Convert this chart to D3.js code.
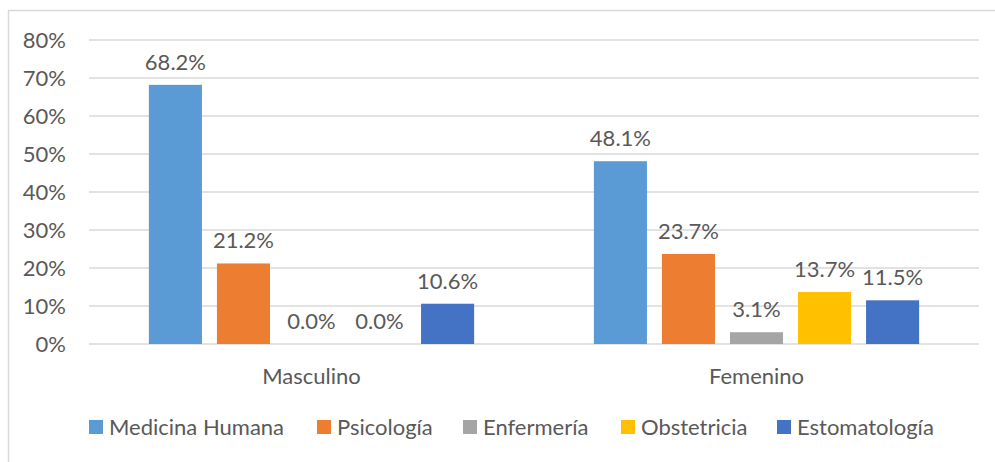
<!DOCTYPE html>
<html>
<head>
<meta charset="utf-8">
<script src="https://cdn.jsdelivr.net/npm/d3@7"></script>
<style>
  body { margin: 0; background: #fff; }
  text { font-family: Lato, "Open Sans", sans-serif; fill: #595959; }
</style>
</head>
<body>
<div id="chart"></div>
<script>
var groups = ["Masculino", "Femenino"];
var carreras = ["Medicina Humana", "Psicología", "Enfermería", "Obstetricia", "Estomatología"];
var masculino = [68.2, 21.2, 0.0, 0.0, 10.6];
var femenino = [48.1, 23.7, 3.1, 13.7, 11.5];
var yTicks = [0, 10, 20, 30, 40, 50, 60, 70, 80];
var color = ["#5B9BD5", "#ED7D31", "#A5A5A5", "#FFC000", "#4472C4"];

var width = 995;
var height = 462;
var fontSize = "22px";
var values = [masculino, femenino];

var svg = d3.select("#chart").append("svg")
	.attr("width", width)
	.attr("height", height);

// chart border
svg.append("rect")
	.attr("x", 8.5).attr("y", 10.5)
	.attr("width", 1000).attr("height", 500)
	.attr("fill", "none")
	.attr("stroke", "#D9D9D9")
	.attr("stroke-width", 1.5);

/* Scale */
var xScale = d3.scaleBand()
	.domain(groups)
	.range([89, 979]);

var inner = d3.scaleBand()
	.domain(carreras)
	.range([0, xScale.bandwidth()])
	.paddingInner(0.22)
	.paddingOuter(0.88);

var yScale = d3.scaleLinear()
	.domain([0, 80])
	.range([344, 40]);

// gridlines
svg.append("g")
	.selectAll("line")
	.data(yTicks).enter()
	.append("line")
	.attr("x1", 89).attr("x2", 979)
	.attr("y1", d => yScale(d)).attr("y2", d => yScale(d))
	.attr("stroke", "#D9D9D9")
	.attr("stroke-width", 1.5);

// y tick labels
svg.append("g")
	.selectAll("text")
	.data(yTicks).enter()
	.append("text")
	.attr("x", 66)
	.attr("y", d => yScale(d))
	.attr("dy", "0.35em")
	.attr("text-anchor", "end")
	.style("font-size", fontSize)
	.text(d => d + "%");

/* bars */
var gGroups = svg.selectAll(".group")
	.data(groups).enter()
	.append("g")
	.attr("class", "group")
	.attr("transform", d => `translate(${xScale(d)},0)`);

gGroups.selectAll("rect")
	.data((g, gi) => carreras.map((c, i) => ({c: c, i: i, v: values[gi][i]}))).enter()
	.append("rect")
	.attr("x", d => inner(d.c))
	.attr("width", inner.bandwidth())
	.attr("y", d => yScale(d.v))
	.attr("height", d => yScale(0) - yScale(d.v))
	.attr("fill", d => color[d.i]);

gGroups.selectAll(".lbl")
	.data((g, gi) => carreras.map((c, i) => ({c: c, i: i, v: values[gi][i]}))).enter()
	.append("text")
	.attr("class", "lbl")
	.attr("x", d => inner(d.c) + inner.bandwidth() / 2)
	.attr("y", d => yScale(d.v) - 15)
	.attr("text-anchor", "middle")
	.style("font-size", fontSize)
	.text(d => d.v.toFixed(1) + "%");

// x axis labels
svg.append("g")
	.selectAll("text")
	.data(groups).enter()
	.append("text")
	.attr("x", d => xScale(d) + xScale.bandwidth() / 2)
	.attr("y", 376)
	.attr("dy", "0.35em")
	.attr("text-anchor", "middle")
	.style("font-size", fontSize)
	.text(d => d);

/* legend */
var legendX = [89, 317, 463, 621, 777];
var legend = svg.append("g")
	.selectAll("g")
	.data(carreras).enter()
	.append("g")
	.attr("transform", (d, i) => `translate(${legendX[i]}, 427)`);

legend.append("rect")
	.attr("x", 0).attr("y", -7)
	.attr("width", 14).attr("height", 14)
	.attr("fill", (d, i) => color[i]);

legend.append("text")
	.attr("x", 20)
	.attr("y", 0)
	.attr("dy", "0.35em")
	.style("font-size", fontSize)
	.text(d => d);
</script>
</body>
</html>
